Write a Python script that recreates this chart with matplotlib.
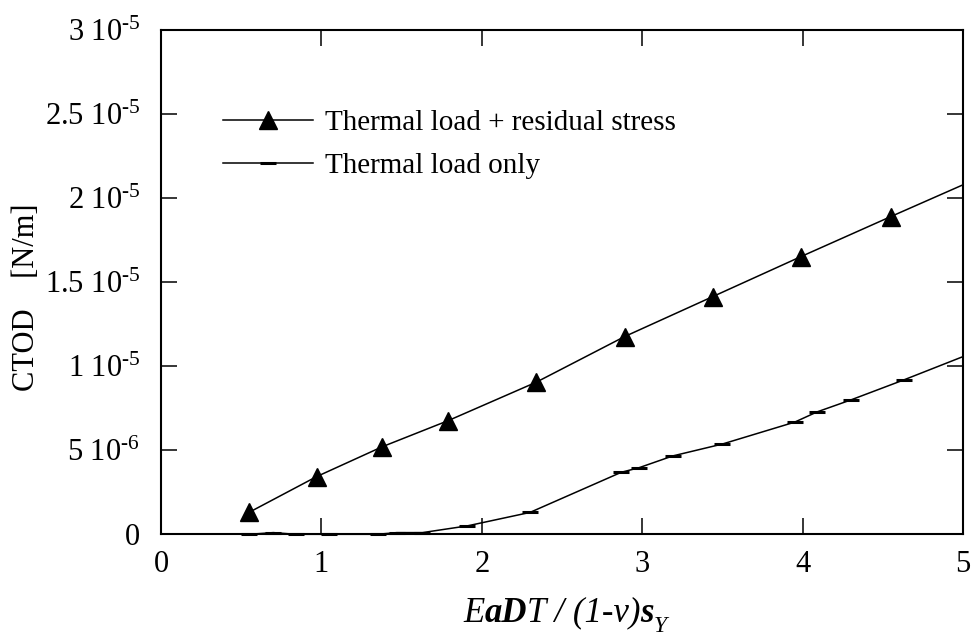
import matplotlib
matplotlib.use("Agg")
import matplotlib.pyplot as plt

plt.rcParams['font.family'] = ['Liberation Serif', 'DejaVu Serif']
plt.rcParams['mathtext.fontset'] = 'custom'
plt.rcParams['mathtext.rm'] = 'Liberation Serif'
plt.rcParams['mathtext.it'] = 'Liberation Serif:italic'
plt.rcParams['mathtext.bf'] = 'Liberation Serif:bold'

# ---- data ----
x_resid = [0.55, 0.97, 1.38, 1.79, 2.34, 2.89, 3.44, 3.99, 4.55, 5.0]
y_resid = [1.31e-6, 3.43e-6, 5.21e-6, 6.76e-6, 9.05e-6, 11.76e-6, 14.14e-6,
           16.52e-6, 18.90e-6, 20.79e-6]
x_therm = [0.55, 0.70, 0.84, 1.05, 1.35, 1.47, 1.63, 1.91, 2.30, 2.87, 2.98,
           3.19, 3.50, 3.95, 4.09, 4.30, 4.63, 5.0]
y_therm = [0.0, 0.1e-6, 0.0, 0.0, 0.0, 0.1e-6, 0.1e-6, 0.5e-6, 1.3e-6,
           3.69e-6, 3.96e-6, 4.66e-6, 5.37e-6, 6.67e-6, 7.28e-6, 7.99e-6,
           9.18e-6, 10.57e-6]
label_resid = "Thermal load + residual stress"
label_therm = "Thermal load only"
x_ticks = [0, 1, 2, 3, 4, 5]
x_ticklabels = ["0", "1", "2", "3", "4", "5"]
y_ticks = [0, 5e-6, 1e-5, 1.5e-5, 2e-5, 2.5e-5, 3e-5]
y_ticklabels = ["0", "5 10$^{\u20106}$", "1 10$^{\u20105}$", "1.5 10$^{\u20105}$",
                "2 10$^{\u20105}$", "2.5 10$^{\u20105}$", "3 10$^{\u20105}$"]

fig = plt.figure(figsize=(9.77, 6.35), dpi=100)
ax = fig.add_axes([0.1648, 0.1586, 0.8209, 0.7942])

ax.plot(x_resid, y_resid, color='black', lw=1.1, marker='^', ms=12.5,
        markevery=list(range(len(x_resid) - 1)), label=label_resid, clip_on=False)
ax.plot(x_therm, y_therm, color='black', lw=1.1, marker='_', ms=12, mew=2.2,
        markevery=list(range(len(x_therm) - 1)), label=label_therm, clip_on=False)

ax.set_xlim(0, 5)
ax.set_ylim(0, 3e-5)
ax.set_xticks(x_ticks)
ax.set_xticklabels(x_ticklabels)
ax.set_yticks(y_ticks)
ax.set_yticklabels(y_ticklabels)
ax.tick_params(direction='in', length=11.5, width=1.1, top=True, right=True,
               labelsize=22)
ax.tick_params(axis='x', pad=11)
ax.tick_params(axis='y', pad=15)
for s in ax.spines.values():
    s.set_linewidth(1.5)

ax.set_ylabel("CTOD    [N/m]", fontsize=22, va='center')
ax.yaxis.set_label_coords(-0.168, 0.47)

leg = ax.legend(loc='upper left', bbox_to_anchor=(0.0773, 0.8427), frameon=False,
                fontsize=21, handlelength=3.08, handletextpad=0.41,
                labelspacing=0.59, borderpad=0, borderaxespad=0, numpoints=1)

# x label built from styled pieces
fs = 25
pieces = [("E", dict(style='italic')),
          ("aD", dict(style='italic', weight='bold')),
          ("T / (1-v)", dict(style='italic')),
          ("s", dict(style='italic', weight='bold'))]
prev = None
for txt, kw in pieces:
    if prev is None:
        prev = fig.text(463 / 977, 13.3 / 635, txt, fontsize=fs, va='baseline', **kw)
    else:
        prev = ax.annotate(txt, xy=(1, 0), xycoords=prev, va='bottom', ha='left',
                           fontsize=fs, annotation_clip=False, **kw)
ax.annotate("Y", xy=(1, 0), xycoords=prev, xytext=(0, -5), textcoords='offset points',
            va='bottom', ha='left', fontsize=17, style='italic', annotation_clip=False)

fig.savefig("out.png", dpi=100)
